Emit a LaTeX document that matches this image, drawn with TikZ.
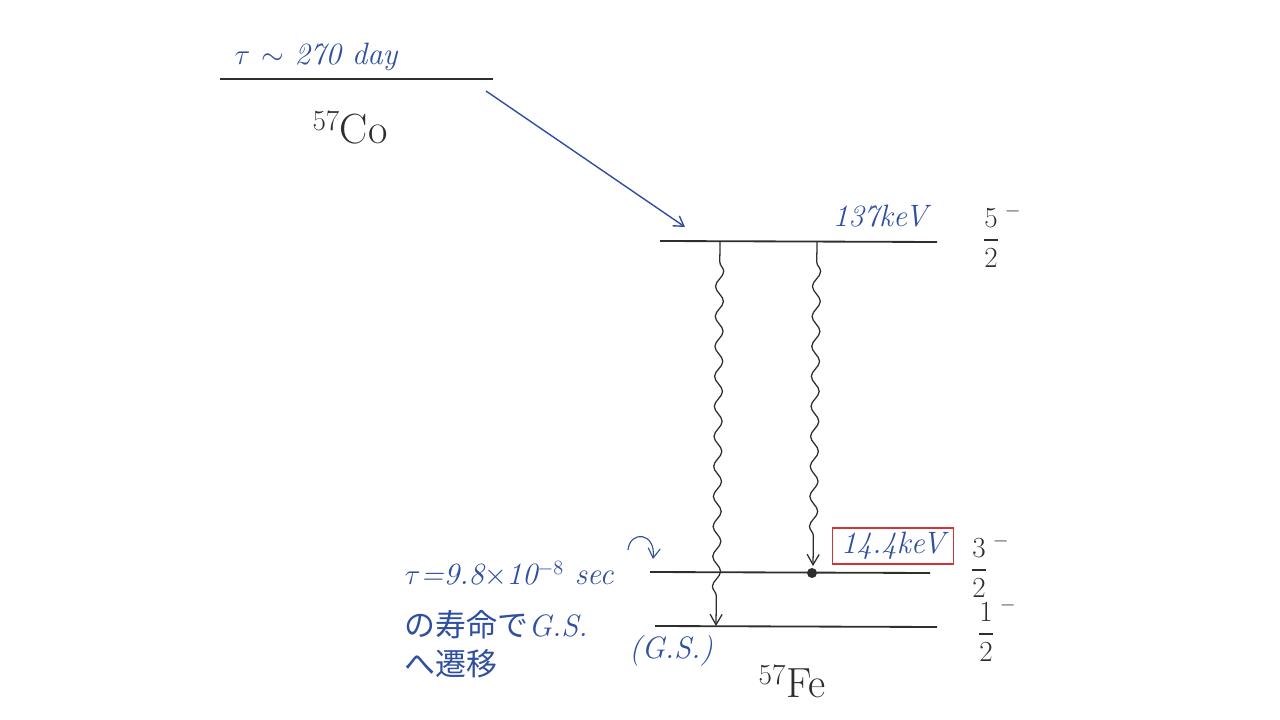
\documentclass[tikz,border=0pt]{standalone}
\usepackage{amsmath}
\usepackage{fontspec}
\newfontfamily\jpfont{Noto Sans CJK JP}
\usepackage{tikz}
\usetikzlibrary{arrows.meta, calc, positioning, decorations.pathmorphing}
\definecolor{tinte}{HTML}{2F4FA0}
\definecolor{rot}{HTML}{D03434}
\definecolor{blei}{HTML}{2E2E2E}

\begin{document}
\begin{tikzpicture}[x=0.025cm, y=-0.025cm,
        level/.style={line width=1.3pt, blei},
        blau/.style={text=tinte, font=\fontsize{22}{26}\selectfont\itshape},
        kern/.style={text=blei, font=\fontsize{30}{34}\selectfont},
        spin/.style={text=blei, font=\fontsize{21}{24}\selectfont},
        gamma/.style={line width=0.9pt, blei, -{Straight Barb[length=2.6mm, width=3mm]},
                      decorate, decoration={snake, amplitude=1mm,
                      segment length=7.5mm, pre length=5mm, post length=5mm}},
        arr/.style={-{Straight Barb[length=2.4mm, width=3mm]}, line width=1pt, tinte}
      ]
      \useasboundingbox (0,0) rectangle (1280,720);
      % levels
      \coordinate (coL) at (220,79);  \coordinate (coR) at (493,79);
      \coordinate (eL) at (660,241);  \coordinate (eR) at (937,242);
      \coordinate (mL) at (650,572);  \coordinate (mR) at (930,573);
      \coordinate (gL) at (655,626);  \coordinate (gR) at (937,627);
      \draw[level] (coL) -- (coR);
      \draw[level] (eL) -- (eR);
      \draw[level] (mL) -- (mR);
      \draw[level] (gL) -- (gR);
      % labels
      \node[blau] (tauco) at (316,57) {$\tau$ $\sim$ 270 day};
      \node[kern] (co) at (350,128) {$^{57}$Co};
      \node[blau] (e137) at (880,216) {137keV};
      \node[spin] (s52) at (1002,236) {$\dfrac{5}{2}^{\;-}$};
      \node[draw=rot, line width=1pt, blau, inner xsep=6pt, inner ysep=3pt] (e14) at (893,546) {14.4keV};
      \node[spin] (s32) at (990,566) {$\dfrac{3}{2}^{\;-}$};
      \node[spin] (s12) at (997,630) {$\dfrac{1}{2}^{\;-}$};
      \node[blau] (gs) at (671,651) {(G.S.)};
      \node[kern] (fe) at (792,682) {$^{57}$Fe};
      \node[blau, anchor=west] (tau) at (400,574) {$\tau$=9.8$\times$10$^{-8}$ sec};
      \node[blau, anchor=west] (jp1) at (400,625) {{\jpfont\upshape の寿命で}G.S.};
      \node[blau, anchor=west] (jp2) at (400,664) {\jpfont\upshape へ遷移};
      % transitions
      \coordinate (c1) at (486,91);   \coordinate (c2) at (685,227);
      \draw[arr] (c1) -- (c2);
      \coordinate (w1) at (720,242);  \coordinate (w2) at (716,626);
      \draw[gamma] (w1) -- (w2);
      \coordinate (v1) at (817,242);  \coordinate (v2) at (813,566);
      \draw[gamma] (v1) -- (v2);
      \fill[blei] (812,573) circle (5);
      \coordinate (k1) at (628,550);  \coordinate (k2) at (653,559);
      \draw[arr, line width=0.8pt] (k1) .. controls (630,530) and (656,532) .. (k2);
    \end{tikzpicture}
\end{document}
